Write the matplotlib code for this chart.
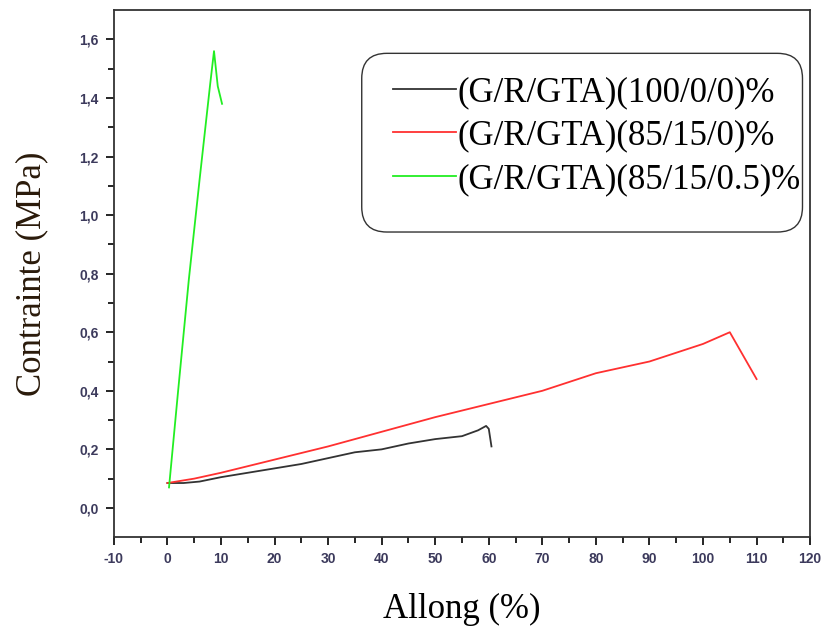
import numpy as np
import matplotlib.pyplot as plt
from matplotlib.patches import FancyBboxPatch

plt.rcParams['axes.unicode_minus'] = False

# Allong (%) / Contrainte (MPa)
x_100 = [0, 3, 6, 10, 15, 20, 25, 30, 35, 40, 45, 50, 55, 58, 59.5, 60, 60.5]
y_100 = [0.085, 0.085, 0.09, 0.105, 0.12, 0.135, 0.15, 0.17, 0.19, 0.2, 0.22, 0.235, 0.245, 0.265, 0.28, 0.27, 0.21]

x_85 = [0, 5, 10, 20, 30, 40, 50, 60, 70, 80, 90, 100, 105, 110]
y_85 = [0.085, 0.1, 0.12, 0.165, 0.21, 0.26, 0.31, 0.355, 0.4, 0.46, 0.5, 0.56, 0.6, 0.44]

x_gta = [0.3, 2, 4, 6, 8, 8.7, 9.4, 10.2]
y_gta = [0.07, 0.4, 0.78, 1.12, 1.45, 1.56, 1.44, 1.38]

labels = ['(G/R/GTA)(100/0/0)%', '(G/R/GTA)(85/15/0)%', '(G/R/GTA)(85/15/0.5)%']

fig = plt.figure(figsize=(8.25, 6.32), dpi=100)
ax = fig.add_axes([0.138, 0.150, 0.844, 0.834])

ax.plot(x_100, y_100, color='#333333', lw=1.3, label=labels[0])
ax.plot(x_85, y_85, color='#ff3030', lw=1.3, label=labels[1])
ax.plot(x_gta, y_gta, color='#22ee22', lw=1.3, label=labels[2])

ax.set_xlim(-10, 120)
ax.set_ylim(-0.1, 1.7)
ax.set_xticks(np.arange(-10, 121, 10))
ax.set_xticks(np.arange(-5, 120, 10), minor=True)
ax.set_yticks(np.arange(0, 1.61, 0.2))
ax.set_yticks(np.arange(0.1, 1.7, 0.2), minor=True)
ax.set_yticklabels([f'{v:.1f}'.replace('.', ',') for v in np.arange(0, 1.61, 0.2)])

for lab in ax.get_xticklabels() + ax.get_yticklabels():
    lab.set_fontfamily('Liberation Sans')
    lab.set_fontsize(10)
    lab.set_fontweight('bold')
    lab.set_color('#3c3a5c')
ax.tick_params(which='major', direction='out', length=6, width=1.2, pad=5)
ax.tick_params(which='minor', direction='out', length=4, width=1.2)
for s in ax.spines.values():
    s.set_linewidth(1.3)
    s.set_color('#333333')

ax.set_xlabel('Allong (%)', family='Liberation Serif', fontsize=25, labelpad=19)
ax.set_ylabel('Contrainte (MPa)', family='Liberation Serif', fontsize=25,
              color='#2a1a0a', labelpad=22)

# rounded box around the legend
box = FancyBboxPatch((0.356, 0.579), 0.633, 0.339, transform=ax.transAxes,
                     boxstyle='round,pad=0,rounding_size=0.036', mutation_aspect=1.32,
                     facecolor='white', edgecolor='#333333', lw=1.0, zorder=4)
ax.add_patch(box)

leg = ax.legend(loc='upper left', bbox_to_anchor=(0.401, 0.875), frameon=False,
                prop={'family': 'Liberation Serif', 'size': 25},
                handlelength=1.8, handletextpad=0.05, borderpad=0, borderaxespad=0,
                labelspacing=0.3)
leg.set_zorder(5)

fig.savefig('out.png', dpi=100)
